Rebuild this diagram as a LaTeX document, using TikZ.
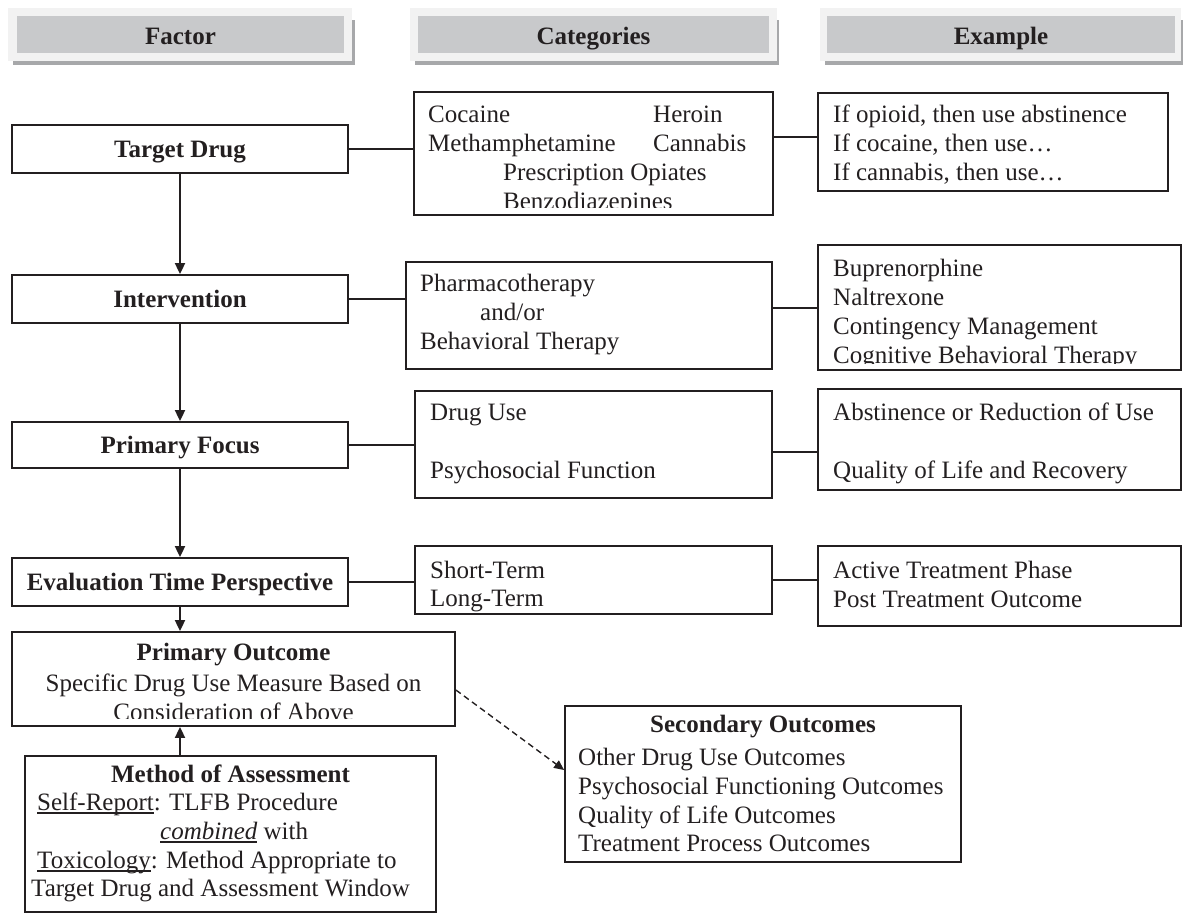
\documentclass[tikz,border=0pt]{standalone}
\usepackage{fontspec}
\setmainfont{Liberation Serif}
\usetikzlibrary{arrows.meta}
\definecolor{ink}{HTML}{231F20}
\definecolor{hdrouter}{HTML}{F2F2F2}
\definecolor{hdrinner}{HTML}{C8C9CB}
\definecolor{hdrshadow}{HTML}{A7A8AA}
\newcommand\myul[1]{\setbox0\hbox{#1}\rlap{\rule[-3.5pt]{\wd0}{1.2pt}}\box0\relax}
\begin{document}
\begin{tikzpicture}[x=1pt,y=-1pt,
  box/.style={draw=ink, line width=1.8pt, inner sep=0pt},
  hshadow/.style={fill=hdrshadow, inner sep=0pt},
  hout/.style={fill=hdrouter, inner sep=0pt},
  hin/.style={fill=hdrinner, inner sep=0pt},
  txt/.style={anchor=base west, inner sep=0pt, text=ink, font=\fontsize{25}{29}\selectfont},
  ctxt/.style={anchor=base, inner sep=0pt, text=ink, font=\fontsize{25}{29}\selectfont},
  btxt/.style={anchor=base, inner sep=0pt, text=ink, font=\fontsize{25}{29}\selectfont\bfseries},
  conn/.style={draw=ink, line width=1.8pt},
  arr/.style={conn, -{Triangle[length=11pt,width=10pt]}},
  darr/.style={draw=ink, line width=1.4pt, dash pattern=on 6pt off 4pt, -{Triangle[length=10pt,width=9pt]}}
]
\useasboundingbox (0,0) rectangle (1183,914);

% ---------- headers ----------
\node[hshadow, minimum width=342, minimum height=45] (h1s) at (184,42.5) {};
\node[hout, minimum width=344, minimum height=53] (h1o) at (180,34.5) {};
\node[hin, minimum width=327, minimum height=37] (h1) at (180.5,34.5) {};
\node[btxt] (h1t) at (180.5,44) {Factor};

\node[hshadow, minimum width=364, minimum height=45] (h2s) at (597,42.5) {};
\node[hout, minimum width=367, minimum height=53] (h2o) at (593.5,34.5) {};
\node[hin, minimum width=351, minimum height=37] (h2) at (593.5,34.5) {};
\begin{scope}
\clip (h2.south west) rectangle (h2.north east);
\node[btxt] (h2t) at (593.5,44) {Categories};
\end{scope}

\node[hshadow, minimum width=360, minimum height=45] (h3s) at (1005,42.5) {};
\node[hout, minimum width=361, minimum height=53] (h3o) at (1000.5,34.5) {};
\node[hin, minimum width=348, minimum height=37] (h3) at (1001,34.5) {};
\node[btxt] (h3t) at (1001,44) {Example};

% ---------- factor column ----------
\node[box, minimum width=336, minimum height=48] (td) at (180,149) {};
\node[btxt] (tdt) at (180,157) {Target Drug};
\node[box, minimum width=336, minimum height=48] (int) at (180,299) {};
\node[btxt] (intt) at (180,307) {Intervention};
\node[box, minimum width=336, minimum height=46] (pf) at (180,445) {};
\node[btxt] (pft) at (180,453) {Primary Focus};
\node[box, minimum width=336, minimum height=48] (ev) at (180,582) {};
\node[btxt] (evt) at (180,590) {Evaluation Time Perspective};

\node[box, minimum width=443, minimum height=94] (po) at (233.5,679) {};
\begin{scope}
\clip (po.north west) rectangle ([yshift=8pt]po.south east);
\node[btxt] (pot1) at (233.5,660) {Primary Outcome};
\node[ctxt] (pot2) at (233.5,691) {Specific Drug Use Measure Based on};
\node[ctxt] (pot3) at (233.5,720) {Consideration of Above};
\end{scope}

\node[box, minimum width=411, minimum height=156] (ma) at (230.5,834) {};
\node[btxt] (mat1) at (230.5,782) {Method of Assessment};
\node[txt] (mat2) at (37,810) {\myul{Self-Report}: TLFB Procedure};
\node[txt] (mat3) at (160,839) {\myul{\itshape combined} with};
\node[txt] (mat4) at (37,868) {\myul{Toxicology}: Method Appropriate to};
\node[txt] (mat5) at (31,896) {Target Drug and Assessment Window};

% ---------- categories column ----------
\node[box, minimum width=359, minimum height=123] (c1) at (593.5,153.5) {};
\begin{scope}
\clip (c1.north west) rectangle ([yshift=8pt]c1.south east);
\node[txt] (c1a) at (428,122) {Cocaine};
\node[txt] (c1b) at (653,122) {Heroin};
\node[txt] (c1c) at (428,151) {Methamphetamine};
\node[txt] (c1d) at (653,151) {Cannabis};
\node[txt] (c1e) at (503,180) {Prescription Opiates};
\node[txt] (c1f) at (503,209) {Benzodiazepines};
\end{scope}

\node[box, minimum width=366, minimum height=107] (c2) at (589,315.5) {};
\node[txt] (c2a) at (420,291) {Pharmacotherapy};
\node[txt] (c2b) at (480,320) {and/or};
\node[txt] (c2c) at (420,349) {Behavioral Therapy};

\node[box, minimum width=357, minimum height=107] (c3) at (593.5,444.5) {};
\node[txt] (c3a) at (430,420) {Drug Use};
\node[txt] (c3b) at (430,478) {Psychosocial Function};

\node[box, minimum width=357, minimum height=68] (c4) at (593.5,580) {};
\node[txt] (c4a) at (430,578) {Short-Term};
\node[txt] (c4b) at (430,606) {Long-Term};

% ---------- example column ----------
\node[box, minimum width=350, minimum height=98] (e1) at (993,142) {};
\node[txt] (e1a) at (833,122) {If opioid, then use abstinence};
\node[txt] (e1b) at (833,151) {If cocaine, then use…};
\node[txt] (e1c) at (833,180) {If cannabis, then use…};

\node[box, minimum width=363, minimum height=125] (e2) at (999.5,307.5) {};
\begin{scope}
\clip (e2.north west) rectangle ([yshift=7pt]e2.south east);
\node[txt] (e2a) at (833,276) {Buprenorphine};
\node[txt] (e2b) at (833,305) {Naltrexone};
\node[txt] (e2c) at (833,334) {Contingency Management};
\node[txt] (e2d) at (833,363) {Cognitive Behavioral Therapy};
\end{scope}

\node[box, minimum width=363, minimum height=101] (e3) at (999.5,439.5) {};
\node[txt] (e3a) at (833,420) {Abstinence or Reduction of Use};
\node[txt] (e3b) at (833,478) {Quality of Life and Recovery};

\node[box, minimum width=363, minimum height=80] (e4) at (999.5,586) {};
\node[txt] (e4a) at (833,578) {Active Treatment Phase};
\node[txt] (e4b) at (833,607) {Post Treatment Outcome};

% ---------- secondary outcomes ----------
\node[box, minimum width=396, minimum height=156] (so) at (763,784) {};
\node[btxt] (so1) at (763,732) {Secondary Outcomes};
\node[txt] (so2) at (578,765) {Other Drug Use Outcomes};
\node[txt] (so3) at (578,794) {Psychosocial Functioning Outcomes};
\node[txt] (so4) at (578,823) {Quality of Life Outcomes};
\node[txt] (so5) at (578,851) {Treatment Process Outcomes};

% ---------- connectors ----------
\draw[conn] (td.east) -- (td.east -| c1.west);
\draw[conn] ([yshift=16.5pt]c1.east) -- ([yshift=16.5pt]c1.east -| e1.west);
\draw[conn] (int.east) -- (int.east -| c2.west);
\draw[conn] ([yshift=7.5pt]c2.east) -- ([yshift=7.5pt]c2.east -| e2.west);
\draw[conn] (pf.east) -- (pf.east -| c3.west);
\draw[conn] ([yshift=-7.5pt]c3.east) -- ([yshift=-7.5pt]c3.east -| e3.west);
\draw[conn] (ev.east) -- (ev.east -| c4.west);
\draw[conn] (c4.east) -- (c4.east -| e4.west);

\draw[arr] (td.south) -- (int.north);
\draw[arr] (int.south) -- (pf.north);
\draw[arr] (pf.south) -- (ev.north);
\draw[arr] (ev.south) -- (ev.south |- po.north);
\draw[arr] (ma.north -| ev.south) -- (po.south -| ev.south);
\draw[darr] ([yshift=-11pt]po.east) -- ([yshift=14pt]so.west);
\end{tikzpicture}
\end{document}
